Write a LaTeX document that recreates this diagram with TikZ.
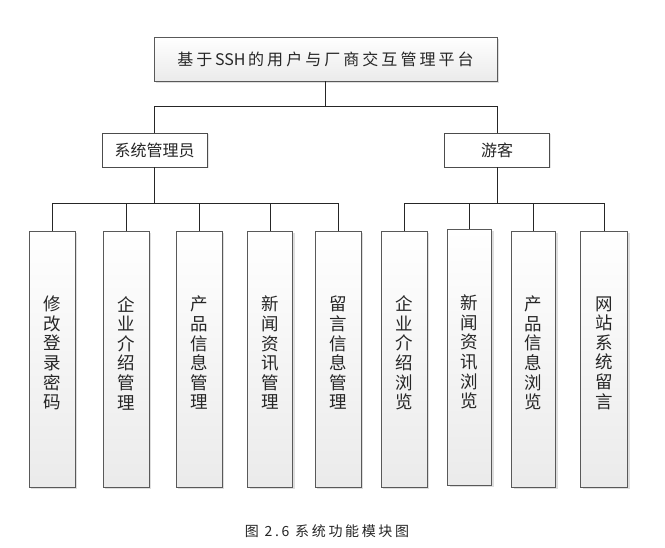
\documentclass[tikz,border=0pt]{standalone}
\usepackage{fontspec}
\newfontfamily\cjk{Noto Sans CJK SC}
\newfontfamily\cjkwide[LetterSpace=19]{Noto Sans CJK SC}
\usetikzlibrary{shadows}
\begin{document}
\begin{tikzpicture}[x=1pt,y=-1pt,
  conn/.style={draw=black!85, line width=0.8pt},
  shade box/.style={draw=black!65, line width=0.8pt, top color=white, bottom color=black!8,
    drop shadow={shadow xshift=2pt, shadow yshift=-2pt, fill=black!16, opacity=0.8}},
  titlebox/.style={shade box, minimum width=343pt, minimum height=44pt, inner sep=0pt,
    font=\cjkwide\fontsize{16}{18}\selectfont, text=black!85},
  midbox/.style={draw=black!70, line width=0.8pt, fill=white, minimum width=105pt, minimum height=34pt,
    inner sep=0pt, font=\cjk\fontsize{16}{18}\selectfont, text=black!85,
    drop shadow={shadow xshift=1.5pt, shadow yshift=-1.5pt, fill=black!12, opacity=0.8}},
  leafbox/.style={shade box, minimum width=46pt, minimum height=256pt, inner sep=0pt},
  vtext/.style={align=center, inner sep=0pt, font=\cjk\fontsize{17.5}{19.6}\selectfont, text=black!85},
  captext/.style={inner sep=0pt, font=\cjkwide\fontsize{14}{16}\selectfont, text=black!85}
]
\useasboundingbox (0,0) rectangle (665,548);
\fill[white] (0,0) rectangle (665,548);

% top
\node[titlebox] (top) at (325.5,59) {基于\,{\cjk\fontsize{16}{18}\selectfont SSH}\,的用户与厂商交互管理平台};
% level 2
\node[midbox] (sys) at (154.5,150) {系统管理员};
\node[midbox] (you) at (497,150) {游客};

% leaves
\node[leafbox] (b1) at (52,359) {};
\node[leafbox] (b2) at (126,359) {};
\node[leafbox] (b3) at (199,359) {};
\node[leafbox, minimum width=45pt] (b4) at (270,359) {};
\node[leafbox] (b5) at (338,359) {};
\node[leafbox] (b6) at (404,359) {};
\node[leafbox, minimum width=44pt] (b7) at (469.5,357) {};
\node[leafbox, minimum width=44pt] (b8) at (533.5,359) {};
\node[leafbox, minimum width=47pt] (b9) at (604,359) {};

\node[vtext] (t1) at (52,353) {修\\改\\登\\录\\密\\码};
\node[vtext] (t2) at (126,353) {企\\业\\介\\绍\\管\\理};
\node[vtext] (t3) at (199,353) {产\\品\\信\\息\\管\\理};
\node[vtext] (t4) at (270,353) {新\\闻\\资\\讯\\管\\理};
\node[vtext] (t5) at (338,353) {留\\言\\信\\息\\管\\理};
\node[vtext] (t6) at (404,353) {企\\业\\介\\绍\\浏\\览};
\node[vtext] (t7) at (469.5,352) {新\\闻\\资\\讯\\浏\\览};
\node[vtext] (t8) at (533.5,353) {产\\品\\信\\息\\浏\\览};
\node[vtext] (t9) at (604,353) {网\\站\\系\\统\\留\\言};

% buses
\coordinate (bus0) at (325.5,106);
\coordinate (busL) at (154.5,203);
\coordinate (busR) at (497,203);

\draw[conn] (top.south) -- (top.south |- bus0);
\draw[conn] (sys.north) -- (sys.north |- bus0) -- (you.north |- bus0) -- (you.north);

\draw[conn] (sys.south) -- (busL);
\draw[conn] (b1.north) -- (b1.north |- busL) -- (b5.north |- busL) -- (b5.north);
\draw[conn] (b2.north) -- (b2.north |- busL);
\draw[conn] (b3.north) -- (b3.north |- busL);
\draw[conn] (b4.north) -- (b4.north |- busL);

\draw[conn] (you.south) -- (busR);
\draw[conn] (b6.north) -- (b6.north |- busR) -- (b9.north |- busR) -- (b9.north);
\draw[conn] (b7.north) -- (b7.north |- busR);
\draw[conn] (b8.north) -- (b8.north |- busR);

% caption
\node[captext] (cap) at (327,531) {图 2.6 系统功能模块图};
\end{tikzpicture}
\end{document}
